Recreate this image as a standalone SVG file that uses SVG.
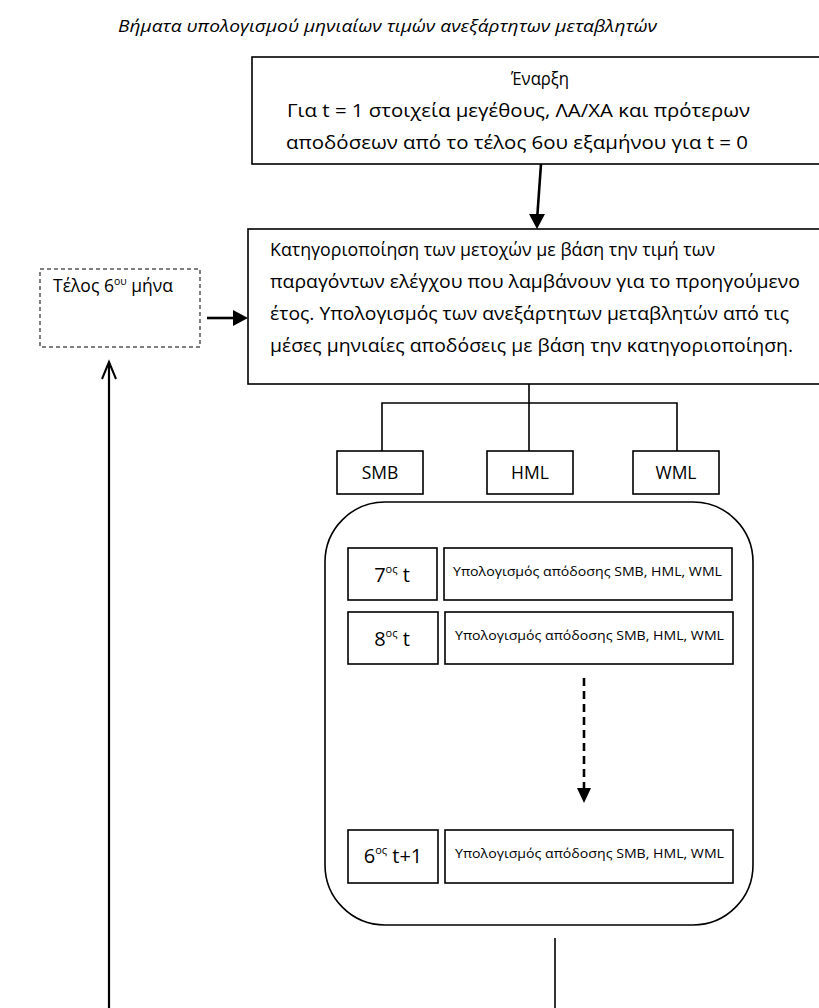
<svg xmlns="http://www.w3.org/2000/svg" width="819" height="1008" viewBox="0 0 819 1008">
<style>
text{font-family:"Open Sans","Noto Sans","DejaVu Sans",sans-serif;fill:#000}
.box{fill:#fff;stroke:#000;stroke-width:1.6}
.t{font-size:17.5px}
.s{font-size:12.5px}
.c{text-anchor:middle}
.ln{fill:none;stroke:#000;stroke-width:1.6}
.ar{fill:none;stroke:#000;stroke-width:2.6}
</style>
<rect width="819" height="1008" fill="#fff"/>
<text x="118" y="32" font-size="16.5" font-style="italic" textLength="539" lengthAdjust="spacingAndGlyphs">Βήματα υπολογισμού μηνιαίων τιμών ανεξάρτητων μεταβλητών</text>

<g id="start">
<rect class="box" x="252" y="57" width="600" height="107"/>
<text class="t" x="511" y="85" textLength="58" lengthAdjust="spacingAndGlyphs">Έναρξη</text>
<text class="t" x="287" y="117" textLength="463" lengthAdjust="spacingAndGlyphs">Για t = 1 στοιχεία μεγέθους, ΛΑ/ΧΑ και πρότερων</text>
<text class="t" x="286" y="149" textLength="462" lengthAdjust="spacingAndGlyphs">αποδόσεων από το τέλος 6ου εξαμήνου για t = 0</text>
</g>

<g id="classify">
<rect class="box" x="248" y="229" width="600" height="155"/>
<text class="t" x="270" y="256" textLength="445" lengthAdjust="spacingAndGlyphs">Κατηγοριοποίηση των μετοχών με βάση την τιμή των</text>
<text class="t" x="270" y="288" textLength="530" lengthAdjust="spacingAndGlyphs">παραγόντων ελέγχου που λαμβάνουν για το προηγούμενο</text>
<text class="t" x="270" y="320" textLength="519" lengthAdjust="spacingAndGlyphs">έτος. Υπολογισμός των ανεξάρτητων μεταβλητών από τις</text>
<text class="t" x="270" y="352" textLength="523" lengthAdjust="spacingAndGlyphs">μέσες μηνιαίες αποδόσεις με βάση την κατηγοριοποίηση.</text>
</g>

<g id="end6">
<rect x="40" y="269" width="160" height="78" fill="#fff" stroke="#000" stroke-width="1" stroke-dasharray="4,3"/>
<text class="t" x="53" y="292">Τέλος 6<tspan font-size="10.5" dy="-7">ου</tspan><tspan dy="7"> μήνα</tspan></text>
</g>

<g id="smb"><rect class="box" x="337" y="451" width="86" height="43"/><text class="t c" x="380" y="479">SMB</text></g>
<g id="hml"><rect class="box" x="487" y="451" width="86" height="43"/><text class="t c" x="530" y="479">HML</text></g>
<g id="wml"><rect class="box" x="633" y="451" width="86" height="43"/><text class="t c" x="676" y="479">WML</text></g>

<g id="months">
<rect class="box" x="325" y="502" width="428" height="423" rx="60" ry="60"/>
</g>
<g id="m7">
<rect class="box" x="348" y="548" width="89" height="52"/>
<text class="c" x="392" y="582" font-size="20">7<tspan font-size="11" dy="-9">ος</tspan><tspan dy="9"> t</tspan></text>
<rect class="box" x="444" y="548" width="288" height="52"/>
<text class="s" x="453" y="576" textLength="269" lengthAdjust="spacingAndGlyphs">Υπολογισμός απόδοσης SMB, HML, WML</text>
</g>
<g id="m8">
<rect class="box" x="348" y="612" width="90" height="52"/>
<text class="c" x="392" y="646" font-size="20">8<tspan font-size="11" dy="-9">ος</tspan><tspan dy="9"> t</tspan></text>
<rect class="box" x="445" y="612" width="288" height="52"/>
<text class="s" x="455" y="640" textLength="269" lengthAdjust="spacingAndGlyphs">Υπολογισμός απόδοσης SMB, HML, WML</text>
</g>
<g id="m6">
<rect class="box" x="348" y="830" width="90" height="53"/>
<text class="c" x="393" y="863" font-size="20">6<tspan font-size="11" dy="-9">ος</tspan><tspan dy="9"> t+1</tspan></text>
<rect class="box" x="445" y="830" width="288" height="53"/>
<text class="s" x="455" y="858" textLength="269" lengthAdjust="spacingAndGlyphs">Υπολογισμός απόδοσης SMB, HML, WML</text>
</g>

<g id="connectors">
<line x1="541" y1="164" x2="537.3" y2="216" class="ar"/>
<path d="M529,214 L545,214 L537,229 Z" fill="#000"/>
<line x1="207" y1="318" x2="234" y2="318" class="ar"/>
<path d="M233,310 L248,318 L233,326 Z" fill="#000"/>
<path class="ln" d="M529,384 V451 M382,451 V403 H677 V451"/>
<line x1="584" y1="678" x2="584" y2="789" stroke="#000" stroke-width="2.6" stroke-dasharray="8,5"/>
<path d="M577,788 L591,788 L584,803 Z" fill="#000"/>
<line x1="555" y1="938" x2="555" y2="1008" class="ln"/>
<line x1="109" y1="1008" x2="109" y2="364" stroke="#000" stroke-width="2.2"/>
<polyline points="102,379 109,362 116,379" fill="none" stroke="#000" stroke-width="2"/>
</g>
</svg>
